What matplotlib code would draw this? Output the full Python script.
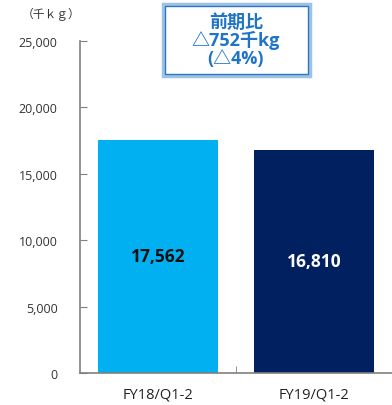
import matplotlib
matplotlib.use("Agg")
import matplotlib.pyplot as plt
from matplotlib.patches import Rectangle

plt.rcParams['font.family'] = ['Open Sans', 'Noto Sans CJK JP', 'DejaVu Sans']

categories = ['FY18/Q1-2', 'FY19/Q1-2']
values = [17562, 16810]
bar_colors = ['#00b0f0', '#002060']
label_colors = ['#111111', '#ffffff']
yticks = [0, 5000, 10000, 15000, 20000, 25000]

fig = plt.figure(figsize=(3.92, 4.06), dpi=100)
ax = fig.add_axes([80/392, 32/406, 312/392, 332/406])

x = range(len(categories))
bars = ax.bar(x, values, width=0.77, color=bar_colors)
for b, v, c in zip(bars, values, label_colors):
    ax.text(b.get_x() + b.get_width() / 2, v / 2, f'{v:,}', ha='center', va='center',
            fontsize=12.5, fontweight='bold', color=c)

ax.set_xlim(-0.5, 1.5)
ax.set_ylim(0, 25000)
ax.set_yticks(yticks)
ax.set_yticklabels([f'{t:,}' for t in yticks], fontsize=9, color='#333333')
ax.set_xticks(list(x))
ax.set_xticklabels(categories, fontsize=10.5, color='#222222')
ax.set_xticks([0.5, 1.5], minor=True)
ax.tick_params(axis='x', which='major', length=0, pad=10)
ax.tick_params(axis='x', which='minor', direction='in', length=5, color='#808080')
ax.tick_params(axis='y', direction='in', length=5, color='#808080', pad=16)
for s in ['top', 'right']:
    ax.spines[s].set_visible(False)
for s in ['left', 'bottom']:
    ax.spines[s].set_color('#808080')
    ax.spines[s].set_linewidth(1.2)

fig.text(22/392, 1 - 14/406, '（千ｋｇ）', fontsize=8.5, color='#333333', va='center',
         family=['Noto Sans CJK JP', 'DejaVu Sans'])

# comparison box with double border
fig.patches.append(Rectangle((163/392, 1 - 77/406), 147/392, 72/406, transform=fig.transFigure,
                             fill=False, edgecolor='#9cc3e6', linewidth=2.5))
fig.patches.append(Rectangle((165/392, 1 - 75/406), 143/392, 68/406, transform=fig.transFigure,
                             fill=False, edgecolor='#2e75c6', linewidth=1))
fig.text(236/392, 1 - 41/406, '前期比\n△752千kg\n(△4%)', ha='center', va='center',
         fontsize=13, fontweight='bold', color='#1f74c8', linespacing=0.95)

fig.savefig('out.png', dpi=100)
